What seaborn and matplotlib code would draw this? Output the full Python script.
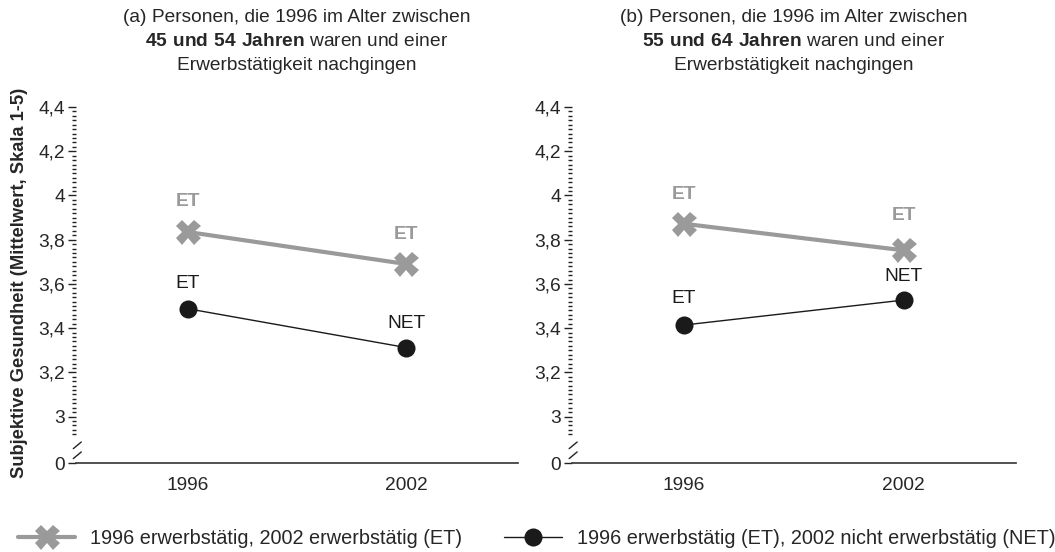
import numpy as np
import pandas as pd
import seaborn as sns
import matplotlib.pyplot as plt
from matplotlib.lines import Line2D
import matplotlib.transforms as mtransforms

years = ['1996', '2002']
et_a = [3.835, 3.69]      # (a) 1996 ET, 2002 ET
net_a = [3.488, 3.312]    # (a) 1996 ET, 2002 NET
et_b = [3.872, 3.752]     # (b)
net_b = [3.414, 3.527]
lab_et = ['ET', 'ET']
lab_net_a = ['ET', 'NET']
lab_net_b = ['ET', 'NET']
title_a = ['(a) Personen, die 1996 im Alter zwischen',
           r'$\mathbf{45\ und\ 54\ Jahren}$ waren und einer',
           'Erwerbstätigkeit nachgingen']
title_b = ['(b) Personen, die 1996 im Alter zwischen',
           r'$\mathbf{55\ und\ 64\ Jahren}$ waren und einer',
           'Erwerbstätigkeit nachgingen']
legend_labels = ['1996 erwerbstätig, 2002 erwerbstätig (ET)',
                 '1996 erwerbstätig (ET), 2002 nicht erwerbstätig (NET)']
ytick_vals = [3.0, 3.2, 3.4, 3.6, 3.8, 4.0, 4.2, 4.4]
ytick_labels = ['3', '3,2', '3,4', '3,6', '3,8', '4', '4,2', '4,4']

sns.set_style('white')
plt.rcParams['font.family'] = ['Liberation Sans', 'DejaVu Sans']
plt.rcParams['mathtext.fontset'] = 'custom'
plt.rcParams['mathtext.rm'] = 'Liberation Sans'
plt.rcParams['mathtext.bf'] = 'Liberation Sans:bold'

GREY = '#9a9a9a'
BLACK = '#1a1a1a'
FS = 13.8
ZERO = 2.79

fig = plt.figure(figsize=(10.55, 5.52), dpi=100)
ax_a = fig.add_axes([0.072, 0.1612, 0.419, 0.6529])
ax_b = fig.add_axes([0.542, 0.1612, 0.4209, 0.6529])

panels = [(ax_a, et_a, net_a, lab_net_a, title_a, [(0, 22), (0, 21)], [(0, 18), (0, 17)]),
          (ax_b, et_b, net_b, lab_net_b, title_b, [(0, 21), (0, 25)], [(0, 19), (0, 17)])]

for ax, et, net, labn, title, off_et, off_net in panels:
    df_et = pd.DataFrame({'Jahr': years, 'Wert': et})
    df_net = pd.DataFrame({'Jahr': years, 'Wert': net})
    sns.lineplot(data=df_et, x='Jahr', y='Wert', ax=ax, color=GREY, linewidth=3,
                 marker='X', markersize=18, markeredgewidth=0, zorder=3)
    sns.lineplot(data=df_net, x='Jahr', y='Wert', ax=ax, color=BLACK, linewidth=1,
                 marker='o', markersize=13, markeredgewidth=0, zorder=3)
    for i in range(len(years)):
        ax.annotate(lab_et[i], (i, et[i]), xytext=off_et[i], textcoords='offset points',
                    ha='center', va='center', fontsize=FS, color=GREY, fontweight='bold')
        ax.annotate(labn[i], (i, net[i]), xytext=off_net[i], textcoords='offset points',
                    ha='center', va='center', fontsize=FS, color=BLACK)
    ax.set_xlim(-0.51, 1.51)
    ax.set_ylim(ZERO, 4.42)
    ax.set_yticks([ZERO] + ytick_vals)
    ax.set_yticklabels(['0'] + ytick_labels, fontsize=FS)
    minors = [v for v in np.round(np.arange(2.92, 4.41, 0.02), 2) if v not in ytick_vals]
    ax.set_yticks(minors, minor=True)
    ax.tick_params(axis='y', which='major', direction='out', length=6, width=1,
                   color='#222222', pad=2, left=True)
    ax.tick_params(axis='y', which='minor', direction='out', length=2.8, width=1,
                   color='#222222', left=True)
    ax.tick_params(axis='x', length=0, pad=10, labelsize=FS)
    for s in ['top', 'right', 'left']:
        ax.spines[s].set_visible(False)
    ax.spines['bottom'].set_color('#333333')
    ax.spines['bottom'].set_linewidth(1.2)
    ax.set_xlabel('')
    ax.set_ylabel('')
    # axis break marks
    trans = mtransforms.blended_transform_factory(ax.transAxes, ax.transData)
    for yb in [2.825, 2.87]:
        ax.plot([-0.006, 0.012], [yb - 0.015, yb + 0.015], transform=trans,
                color='#222222', linewidth=1, clip_on=False)
    # title lines
    pos = ax.get_position()
    cx = (pos.x0 + pos.x1) / 2
    for k, line in enumerate(title):
        fig.text(cx, 1 - (18 + 23.5 * k) / 552, line, ha='center', va='center', fontsize=FS)

ax_a.set_ylabel('Subjektive Gesundheit (Mittelwert, Skala 1-5)', fontsize=13.2,
                fontweight='bold', labelpad=7)

handles = [Line2D([], [], color=GREY, linewidth=3, marker='X', markersize=18, markeredgewidth=0),
           Line2D([], [], color=BLACK, linewidth=1, marker='o', markersize=13, markeredgewidth=0)]
fig.legend(handles, legend_labels, loc='center', bbox_to_anchor=(0.5085, 1 - 538 / 552), ncol=2,
           frameon=False, fontsize=14.3, handlelength=2.9, handletextpad=0.75, columnspacing=2.1)

fig.savefig('out.png', dpi=100)
